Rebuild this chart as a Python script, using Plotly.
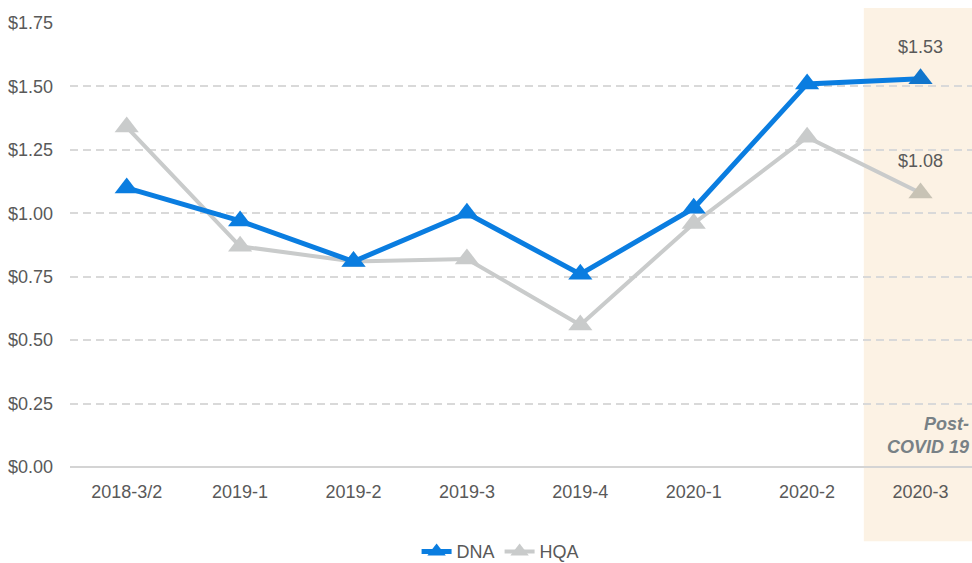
import plotly.graph_objects as go

categories = ["2018-3/2", "2019-1", "2019-2", "2019-3", "2019-4", "2020-1", "2020-2", "2020-3"]
dna = [1.10, 0.97, 0.81, 1.00, 0.76, 1.02, 1.51, 1.53]
hqa = [1.34, 0.87, 0.81, 0.82, 0.56, 0.96, 1.30, 1.08]
y_ticks = [0, 0.25, 0.5, 0.75, 1.0, 1.25, 1.5, 1.75]
y_tick_text = ["$0.00", "$0.25", "$0.50", "$0.75", "$1.00", "$1.25", "$1.50", "$1.75"]

BLUE = "#0A7DE0"
BLUE_BAND = "#1276CC"
GRAY = "#C9CBCB"
GRAY_BAND = "#C8C3B5"
TXT = "#595959"
FONT = "Liberation Sans, Arial, sans-serif"

xi = list(range(len(categories)))
n = len(categories)

fig = go.Figure()
fig.add_trace(go.Scatter(
    x=xi, y=hqa, name="HQA", mode="lines+markers",
    line=dict(color=GRAY, width=4),
    marker=dict(symbol="triangle-up", size=21,
                color=[GRAY] * (n - 1) + [GRAY_BAND]),
))
fig.add_trace(go.Scatter(
    x=xi, y=dna, name="DNA", mode="lines+markers",
    line=dict(color=BLUE, width=5),
    marker=dict(symbol="triangle-up", size=21,
                color=[BLUE] * (n - 1) + [BLUE_BAND]),
))

# data labels on last points
fig.add_annotation(x=xi[-1], y=dna[-1], text="$%.2f" % dna[-1], showarrow=False,
                   yshift=32, font=dict(size=18, color=TXT, family=FONT))
fig.add_annotation(x=xi[-1], y=hqa[-1], text="$%.2f" % hqa[-1], showarrow=False,
                   yshift=32, font=dict(size=18, color=TXT, family=FONT))

fig.add_annotation(x=xi[-1], y=0.125, text="<b><i>Post-<br>COVID 19</i></b>", showarrow=False,
                   xshift=7, align="right",
                   font=dict(size=18, color="#788186", family=FONT))

fig.add_shape(type="rect", xref="x", yref="paper", x0=6.5, x1=7.6, y0=-0.167, y1=1.034,
              fillcolor="#FCF2E4", line=dict(width=0), layer="below")

fig.update_layout(
    width=972, height=563,
    margin=dict(l=70, r=0, t=23, b=96),
    plot_bgcolor="rgba(0,0,0,0)", paper_bgcolor="white",
    font=dict(family=FONT, size=18, color=TXT),
    showlegend=True,
    legend=dict(orientation="h", xref="container", yref="container", x=0.515, y=0.02,
                xanchor="center", yanchor="middle", traceorder="reversed",
                font=dict(size=18, color=TXT)),
)
fig.update_xaxes(
    range=[-0.5, 7.454], tickmode="array", tickvals=xi, ticktext=categories,
    showgrid=False, zeroline=False, showline=False, ticks="",
    tickfont=dict(size=18, color=TXT), ticklabelstandoff=12,
)
fig.update_yaxes(
    range=[0, 1.75], tickmode="array", tickvals=y_ticks, ticktext=y_tick_text,
    showgrid=True, gridcolor="#D9D9D9", griddash="8px,5px", gridwidth=1.5,
    zeroline=True, zerolinecolor="#D4D4D4", zerolinewidth=2,
    showline=False, ticks="", tickfont=dict(size=18, color=TXT), ticklabelstandoff=16,
)

fig.write_html("out.html", config={"displayModeBar": False},
               post_script="document.body.style.margin='0';")
